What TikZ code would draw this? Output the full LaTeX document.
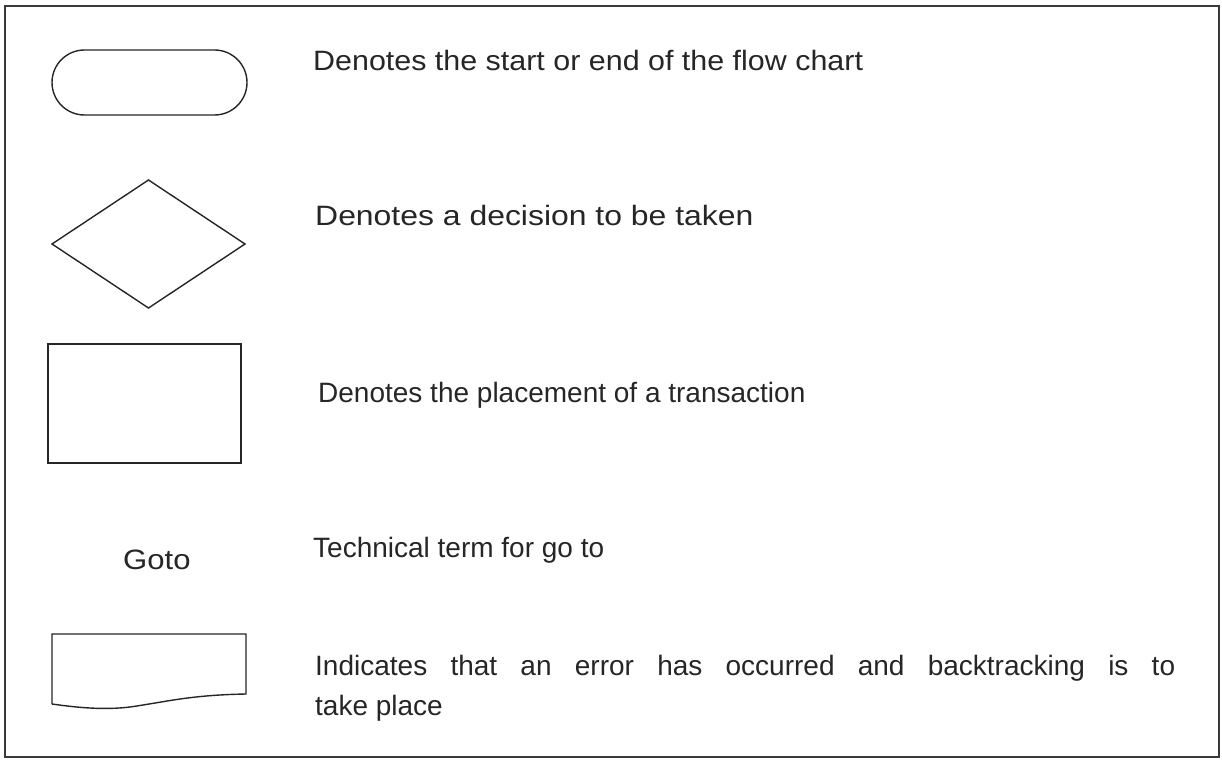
\documentclass[tikz,border=0pt]{standalone}
\usepackage{fontspec}
\setmainfont{Liberation Sans}
\usetikzlibrary{shapes.geometric,shapes.misc}
\definecolor{ink}{HTML}{262626}
\definecolor{rule}{HTML}{3A3A3A}
\tikzset{
  symb/.style={draw=ink, line width=1.4pt, inner sep=0pt, outer sep=0pt},
  legend/.style={anchor=base west, inner sep=0pt, text=ink,
    font=\fontsize{28}{40}\selectfont},
  wide/.style={font=\fontsize{28}{40}\selectfont\addfontfeature{FakeStretch=#1}},
}
\begin{document}
\begin{tikzpicture}[x=1pt,y=-1pt]
  \useasboundingbox (0,0) rectangle (1222,762);
  \fill[white] (0,0) rectangle (1222,762);
  % outer frame
  \draw[rule, line width=2pt] (5,6) rectangle (1219,757);

  % terminator
  \node[symb, rounded rectangle, minimum width=195pt, minimum height=65pt]
    (term) at (149.5,82.5) {};
  \node[legend, wide=1.087] (termtxt) at (313,71) {Denotes the start or end of the flow chart};

  % decision
  \node[symb, diamond, minimum width=193pt, minimum height=128pt]
    (dec) at (148.5,244) {};
  \node[legend, wide=1.14] (dectxt) at (315,225) {Denotes a decision to be taken};

  % process
  \node[symb, rectangle, minimum width=193pt, minimum height=119pt]
    (proc) at (144.5,403.5) {};
  \node[legend] (proctxt) at (318,402) {Denotes the placement of a transaction};

  % goto
  \node[legend, wide=1.11] (goto) at (123,569) {Goto};
  \node[legend] (gototxt) at (313,557) {Technical term for go to};

  % error / document symbol
  \coordinate (dtl) at (52,634);
  \coordinate (dtr) at (246,634);
  \coordinate (dbr) at (246,694);
  \coordinate (dbl) at (52,704);
  \draw[symb, line join=miter] (dbl) -- (dtl) -- (dtr) -- (dbr)
    .. controls (190,695) and (165,702) .. (130,707)
    .. controls (105,710) and (80,708) .. (dbl);
  \node[legend, align=left] (errtxt) at (315,715)
    {\makebox[860pt][s]{Indicates that an error has occurred and backtracking is to}\\take place};
\end{tikzpicture}
\end{document}
